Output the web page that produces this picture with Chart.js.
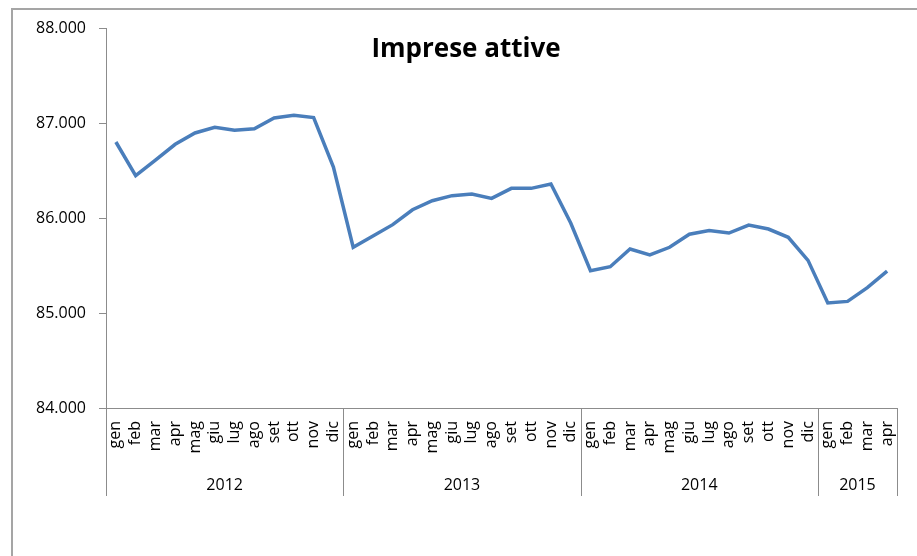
<!DOCTYPE html>
<html>
<head>
<meta charset="utf-8">
<script src="https://cdn.jsdelivr.net/npm/chart.js@4"></script>
<style>
  body { margin: 0; background: #fff; }
  #wrap { position: relative; width: 917px; height: 556px; overflow: hidden; }
  #frame { position: absolute; left: 11px; top: 8px; width: 1000px; height: 1000px; border-left: 2px solid #a5a5a5; border-top: 2px solid #a5a5a5; }
  canvas { position: absolute; left: 0; top: 0; }
</style>
</head>
<body>
<div id="wrap">
  <div id="frame"></div>
  <canvas id="chart" width="917" height="556"></canvas>
</div>
<script>
const mesi = ['gen', 'feb', 'mar', 'apr', 'mag', 'giu', 'lug', 'ago', 'set', 'ott', 'nov', 'dic']
const anni = ['2012', '2013', '2014', '2015']
const mesiPerAnno = [12, 12, 12, 4]
const imprese = [
  86800, 86445, 86610, 86776, 86895, 86955, 86923, 86940, 87053, 87081, 87057, 86537,
  85692, 85810, 85930, 86087, 86182, 86235, 86253, 86207, 86312, 86312, 86358, 85947,
  85445, 85487, 85674, 85611, 85692, 85829, 85867, 85842, 85926, 85884, 85797, 85554,
  85105, 85122, 85267, 85440,
]
const yTicks = [84000, 85000, 86000, 87000, 88000]
const titolo = 'Imprese attive'

const labels = []
mesiPerAnno.forEach((n) => {
  for (let i = 0; i < n; i++) labels.push(mesi[i])
})

const formatta = (v) => String(v).replace(/\B(?=(\d{3})+(?!\d))/g, '.')

// separatori e etichette degli anni sotto l'asse x, più il titolo
const anniPlugin = {
  id: 'anni',
  afterDraw(chart) {
    const ctx = chart.ctx
    const x = chart.scales.x
    const half = (x.getPixelForValue(1) - x.getPixelForValue(0)) / 2
    ctx.save()
    ctx.strokeStyle = '#8c8c8c'
    ctx.lineWidth = 1
    ctx.fillStyle = '#000'
    ctx.font = '16px "Open Sans"'
    ctx.textAlign = 'center'
    ctx.textBaseline = 'middle'
    let start = 0
    anni.forEach((anno, k) => {
      const end = start + mesiPerAnno[k] - 1
      const x0 = x.getPixelForValue(start) - half
      const x1 = x.getPixelForValue(end) + half
      ;[x0, x1].forEach((px) => {
        ctx.beginPath()
        ctx.moveTo(Math.round(px) + 0.5, x.top)
        ctx.lineTo(Math.round(px) + 0.5, x.bottom)
        ctx.stroke()
      })
      ctx.fillText(anno, (x0 + x1) / 2, x.bottom - 11)
      start = end + 1
    })
    ctx.font = 'bold 26px "Open Sans"'
    ctx.textBaseline = 'alphabetic'
    ctx.fillText(titolo, 466, 57)
    ctx.restore()
  },
}

new Chart(document.getElementById('chart'), {
  type: 'line',
  data: {
    labels: labels,
    datasets: [
      {
        label: titolo,
        data: imprese,
        borderColor: '#4a7ebb',
        borderWidth: 3.5,
        pointRadius: 0,
        tension: 0,
        fill: false,
      },
    ],
  },
  options: {
    responsive: false,
    animation: false,
    layout: { padding: { left: 0, top: 28, right: 20, bottom: 60 } },
    plugins: { legend: { display: false }, tooltip: { enabled: false } },
    scales: {
      x: {
        offset: true,
        grid: { display: false, drawTicks: false },
        border: { color: '#8c8c8c', width: 1 },
        ticks: {
          autoSkip: false,
          minRotation: 90,
          maxRotation: 90,
          padding: 13,
          color: '#000',
          font: { family: 'Open Sans', size: 16 },
        },
        afterFit: (scale) => {
          scale.height = 88
          scale.paddingLeft = 0
          scale.paddingRight = 0
        },
      },
      y: {
        min: 84000,
        max: 88000,
        afterBuildTicks: (scale) => { scale.ticks = yTicks.map((v) => ({ value: v })) },
        grid: { drawOnChartArea: false, tickLength: 7, color: '#8c8c8c' },
        border: { color: '#8c8c8c', width: 1 },
        ticks: {
          padding: 13,
          color: '#000',
          font: { family: 'Open Sans', size: 16 },
          callback: (v) => formatta(v),
        },
        afterFit: (scale) => { scale.width = 106 },
      },
    },
  },
  plugins: [anniPlugin],
})
</script>
</body>
</html>
